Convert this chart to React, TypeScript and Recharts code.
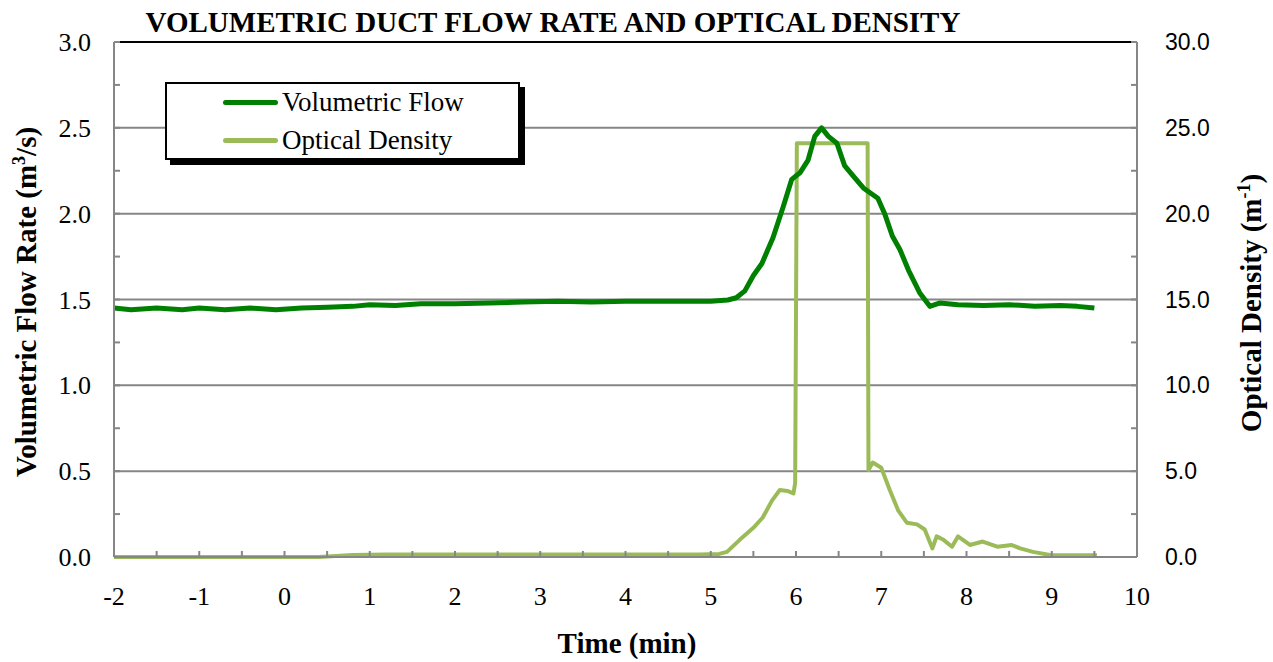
import React from 'react';
import { LineChart, Line, XAxis, YAxis, CartesianGrid, ReferenceLine } from 'recharts';

// volumetric flow (m3/s) vs time (min)
const flowTime = [-2, -1.8, -1.5, -1.2, -1.0, -0.7, -0.4, -0.1, 0.2, 0.5, 0.8, 1.0, 1.3, 1.6, 2.0, 2.4, 2.8, 3.2, 3.6, 4.0, 4.4, 4.8, 5.0, 5.2, 5.3, 5.4, 5.5, 5.6, 5.73, 5.85, 5.95, 6.05, 6.14, 6.22, 6.3, 6.38, 6.48, 6.57, 6.67, 6.79, 6.96, 7.04, 7.13, 7.22, 7.32, 7.45, 7.57, 7.69, 7.9, 8.2, 8.5, 8.8, 9.1, 9.3, 9.5];
const flowValue = [1.45, 1.44, 1.45, 1.44, 1.45, 1.44, 1.45, 1.44, 1.45, 1.455, 1.46, 1.47, 1.465, 1.475, 1.475, 1.48, 1.485, 1.49, 1.485, 1.49, 1.49, 1.49, 1.49, 1.497, 1.51, 1.55, 1.64, 1.71, 1.86, 2.04, 2.2, 2.24, 2.31, 2.45, 2.5, 2.45, 2.41, 2.28, 2.22, 2.15, 2.09, 2.0, 1.87, 1.79, 1.67, 1.54, 1.46, 1.48, 1.47, 1.465, 1.47, 1.46, 1.465, 1.46, 1.45];

// optical density (1/m) vs time (min)
const odTime = [-2, 0.4, 0.8, 1.2, 2, 3, 4, 4.87, 5.1, 5.19, 5.34, 5.5, 5.61, 5.72, 5.81, 5.9, 5.97, 5.99, 6.01, 6.84, 6.85, 6.9, 7.0, 7.1, 7.2, 7.3, 7.42, 7.51, 7.6, 7.65, 7.73, 7.83, 7.9, 8.04, 8.19, 8.36, 8.53, 8.63, 8.78, 8.98, 9.53];
const odValue = [0, 0, 0.12, 0.15, 0.15, 0.15, 0.15, 0.15, 0.18, 0.3, 1.0, 1.7, 2.3, 3.3, 3.9, 3.85, 3.7, 4.3, 24.1, 24.1, 5.07, 5.5, 5.2, 3.9, 2.7, 2.0, 1.9, 1.6, 0.5, 1.2, 1.0, 0.6, 1.2, 0.7, 0.9, 0.6, 0.7, 0.5, 0.3, 0.12, 0.1];

const xTicks = [-2, -1.5, -1, -0.5, 0, 0.5, 1, 1.5, 2, 2.5, 3, 3.5, 4, 4.5, 5, 5.5, 6, 6.5, 7, 7.5, 8, 8.5, 9, 9.5, 10];
const leftTicks = [0, 0.25, 0.5, 0.75, 1, 1.25, 1.5, 1.75, 2, 2.25, 2.5, 2.75, 3];
const rightTicks = [0, 2.5, 5, 7.5, 10, 12.5, 15, 17.5, 20, 22.5, 25, 27.5, 30];
const gridValues = [0.5, 1, 1.5, 2, 2.5];

const flowData = flowTime.map((t, i) => ({ t, v: flowValue[i] }));
const odData = odTime.map((t, i) => ({ t, v: odValue[i] }));

const SERIF = "'Times New Roman', 'Liberation Serif', serif";
const SANS = "'Liberation Sans', Arial, sans-serif";
const AXIS = '#868686';
const DARK = '#008000';
const LIGHT = '#9BBB59';

const BottomTick = (props: any) => {
  const { x, y, payload } = props;
  const major = Number.isInteger(payload.value);
  return (
    <g>
      <line x1={x} x2={x} y1={y} y2={y - 6} stroke={AXIS} strokeWidth={2} />
      {major && (
        <text x={x} y={y + 48} textAnchor="middle" fontFamily={SERIF} fontSize={26} fill="#000">
          {payload.value}
        </text>
      )}
    </g>
  );
};

const LeftTick = (props: any) => {
  const { x, y, payload } = props;
  const major = Math.abs(payload.value * 2 - Math.round(payload.value * 2)) < 1e-9;
  return (
    <g>
      <line x1={x} x2={x + 6} y1={y} y2={y} stroke={AXIS} strokeWidth={2} />
      {major && (
        <text x={x - 23} y={y} dy="0.35em" textAnchor="end" fontFamily={SERIF} fontSize={26} fill="#000">
          {payload.value.toFixed(1)}
        </text>
      )}
    </g>
  );
};

const RightTick = (props: any) => {
  const { x, y, payload } = props;
  const major = payload.value % 5 === 0;
  return (
    <g>
      <line x1={x} x2={x - 6} y1={y} y2={y} stroke={AXIS} strokeWidth={2} />
      {major && (
        <text x={x + 28} y={y} dy="0.35em" textAnchor="start" fontFamily={SANS} fontSize={23} fill="#000">
          {payload.value.toFixed(1)}
        </text>
      )}
    </g>
  );
};

const legendItems = [
  { name: 'Volumetric Flow', color: DARK, top: 20 },
  { name: 'Optical Density', color: LIGHT, top: 58 },
];

const LegendBox = () => (
  <div
    style={{
      position: 'absolute',
      left: 165,
      top: 82,
      width: 355,
      height: 78,
      boxSizing: 'border-box',
      border: '2px solid #000',
      background: '#fff',
      boxShadow: '5px 5px 0 #000',
    }}
  >
    {legendItems.map((it) => (
      <div key={it.name}>
        <div
          style={{
            position: 'absolute',
            left: 56,
            top: it.top - 4.5,
            width: 55,
            height: 5,
            borderRadius: 3,
            background: it.color,
          }}
        />
        <div
          style={{
            position: 'absolute',
            left: 115,
            top: it.top - 15,
            fontFamily: SERIF,
            fontSize: 27,
            lineHeight: '27px',
            whiteSpace: 'nowrap',
            color: '#000',
          }}
        >
          {it.name}
        </div>
      </div>
    ))}
  </div>
);

const labelStyle: React.CSSProperties = {
  position: 'absolute',
  fontFamily: SERIF,
  fontWeight: 'bold',
  fontSize: 29,
  lineHeight: '29px',
  whiteSpace: 'nowrap',
  color: '#000',
};

export default function App() {
  return (
    <div style={{ position: 'absolute', left: 0, top: 0, width: 1273, height: 662, background: '#fff' }}>
      <LineChart
        width={1273}
        height={662}
        margin={{ top: 42, right: 135, bottom: 104, left: 113 }}
      >
        <CartesianGrid
          vertical={false}
          yAxisId="left"
          horizontalValues={gridValues}
          stroke={AXIS}
          strokeWidth={2}
        />
        <XAxis
          dataKey="t"
          type="number"
          domain={[-2, 10]}
          ticks={xTicks}
          interval={0}
          height={1}
          tickSize={0}
          tickMargin={0}
          tick={<BottomTick />}
          axisLine={{ stroke: AXIS, strokeWidth: 2 }}
          allowDuplicatedCategory={false}
        />
        <YAxis
          yAxisId="left"
          domain={[0, 3]}
          ticks={leftTicks}
          interval={0}
          width={1}
          tickSize={0}
          tickMargin={0}
          tick={<LeftTick />}
          axisLine={{ stroke: AXIS, strokeWidth: 2 }}
        />
        <YAxis
          yAxisId="right"
          orientation="right"
          domain={[0, 30]}
          ticks={rightTicks}
          interval={0}
          width={1}
          tickSize={0}
          tickMargin={0}
          tick={<RightTick />}
          axisLine={{ stroke: AXIS, strokeWidth: 2 }}
        />
        <ReferenceLine yAxisId="left" y={3} stroke="#000" strokeWidth={2} />
        <Line
          yAxisId="right"
          data={odData}
          dataKey="v"
          type="linear"
          stroke={LIGHT}
          strokeWidth={4}
          dot={false}
          strokeLinejoin="round"
          isAnimationActive={false}
        />
        <Line
          yAxisId="left"
          data={flowData}
          dataKey="v"
          type="linear"
          stroke={DARK}
          strokeWidth={5}
          dot={false}
          strokeLinejoin="round"
          isAnimationActive={false}
        />
      </LineChart>

      <LegendBox />
      <div style={{ ...labelStyle, left: 553, top: 8, transform: 'translateX(-50%)' }}>
        VOLUMETRIC DUCT FLOW RATE AND OPTICAL DENSITY
      </div>
      <div style={{ ...labelStyle, left: 627, top: 629, transform: 'translateX(-50%)' }}>
        Time (min)
      </div>
      <div style={{ ...labelStyle, left: 26, top: 302, transform: 'translate(-50%, -50%) rotate(-90deg)' }}>
        Volumetric Flow Rate (m<sup style={{ fontSize: 18, lineHeight: 0 }}>3</sup>/s)
      </div>
      <div style={{ ...labelStyle, left: 1251, top: 303, transform: 'translate(-50%, -50%) rotate(-90deg)' }}>
        Optical Density (m<sup style={{ fontSize: 18, lineHeight: 0 }}>-1</sup>)
      </div>
    </div>
  );
}
